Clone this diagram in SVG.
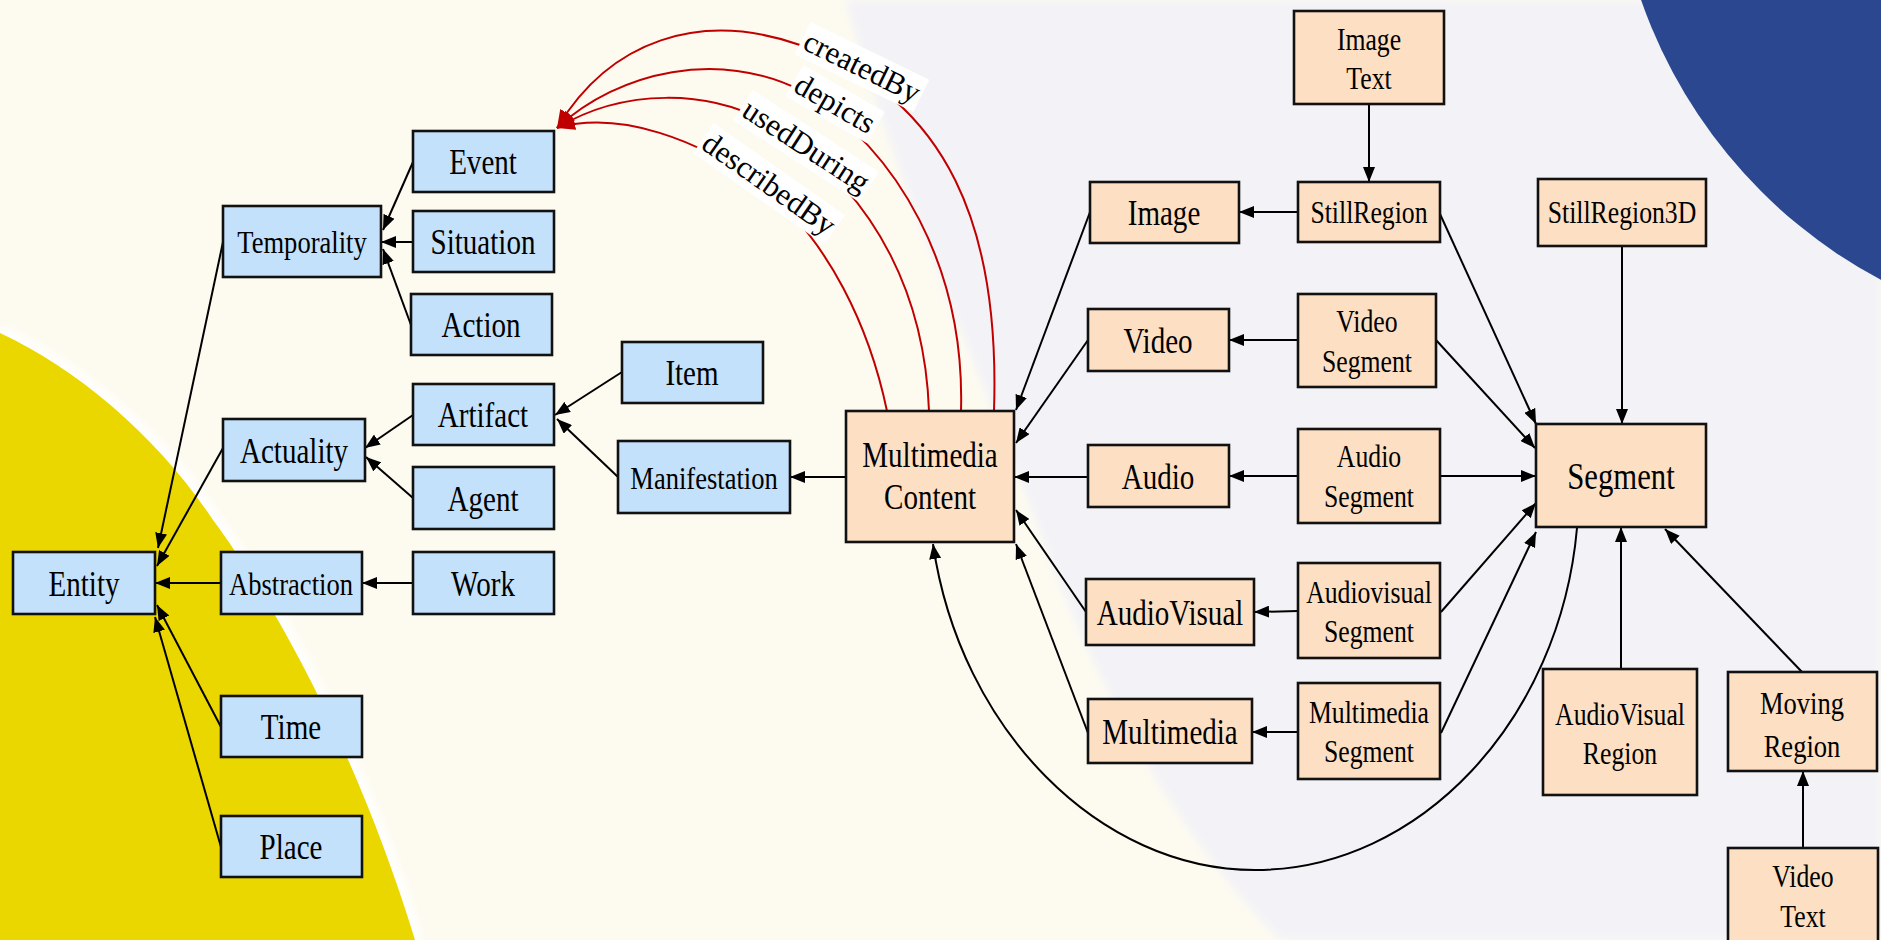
<svg xmlns="http://www.w3.org/2000/svg" width="1881" height="940" viewBox="0 0 1881 940">
<style>
.node rect{stroke:#111;stroke-width:2.6}
.blue rect{fill:#C3E1FB}
.peach rect{fill:#FDDFC3}
text{font-family:'Liberation Serif','Times New Roman',serif;text-anchor:middle;fill:#000}
.b{font-size:35px}
.m{font-size:32px}
.s{font-size:31px}
.xl{font-size:37px}
.e{fill:none;stroke:#000;stroke-width:2;marker-end:url(#ah)}
.r{fill:none;stroke:#C00000;stroke-width:2;marker-end:url(#ahr)}
.lbl rect{fill:#fff}
.lbl text{font-size:31px}
</style>
<defs>
<marker id="ah" viewBox="0 0 15 12" refX="15" refY="6" markerWidth="15" markerHeight="12" markerUnits="userSpaceOnUse" orient="auto"><path d="M0,0 L15,6 L0,12 z" fill="#000"/></marker>
<marker id="ahr" viewBox="0 0 18 14" refX="18" refY="7" markerWidth="18" markerHeight="14" markerUnits="userSpaceOnUse" orient="auto"><path d="M0,0 L18,7 L0,14 z" fill="#C00000"/></marker>
<filter id="soft" x="-10%" y="-10%" width="120%" height="120%"><feGaussianBlur stdDeviation="4"/></filter>
</defs>
<g id="background">
<rect x="0" y="0" width="1881" height="940" fill="#FDFBF0"/>
<path d="M845,0 C900,200 1000,420 1050,560 C1120,740 1200,860 1280,940 L1881,940 L1881,0 Z" fill="#F3F3F7" filter="url(#soft)"/>
<path d="M0,333 C80,370 160,440 213,520 C280,610 360,760 415,940" fill="none" stroke="#FFFFFF" stroke-width="14" filter="url(#soft)"/>
<path d="M0,333 C80,370 160,440 213,520 C280,610 360,760 415,940 L0,940 Z" fill="#EBD700"/>
<circle cx="2118" cy="-166" r="505" fill="#2B4790"/>
</g>
<g id="connectors">
<path class="e" d="M223,242 L158,548"/>
<path class="e" d="M223,448 L157,566"/>
<path class="e" d="M221,583 L155,583"/>
<path class="e" d="M221,727 L157,605"/>
<path class="e" d="M221,847 L155,617"/>
<path class="e" d="M413,162 L383,230"/>
<path class="e" d="M413,242 L381,242"/>
<path class="e" d="M411,325 L383,249"/>
<path class="e" d="M413,415 L365,448"/>
<path class="e" d="M413,498 L366,457"/>
<path class="e" d="M413,583 L362,583"/>
<path class="e" d="M622,372 L555,415"/>
<path class="e" d="M618,477 L557,419"/>
<path class="e" d="M846,477 L790,477"/>
<path class="e" d="M1090,212 L1016,410"/>
<path class="e" d="M1088,340 L1016,443"/>
<path class="e" d="M1088,477 L1014,477"/>
<path class="e" d="M1086,612 L1016,510"/>
<path class="e" d="M1088,733 L1016,544"/>
<path class="e" d="M1577,528 C1560,720 1420,870 1255,870 C1100,870 960,730 933,544"/>
<path class="e" d="M1369,104 L1369,182"/>
<path class="e" d="M1298,212 L1239,212"/>
<path class="e" d="M1298,340 L1229,340"/>
<path class="e" d="M1298,476 L1229,476"/>
<path class="e" d="M1298,611 L1254,612"/>
<path class="e" d="M1298,732 L1252,732"/>
<path class="e" d="M1440,214 L1536,424"/>
<path class="e" d="M1436,340 L1535,448"/>
<path class="e" d="M1440,476 L1536,476"/>
<path class="e" d="M1441,612 L1536,503"/>
<path class="e" d="M1441,733 Q1480,650 1536,532"/>
<path class="e" d="M1622,246 L1622,424"/>
<path class="e" d="M1621,669 L1621,527"/>
<path class="e" d="M1802,672 L1665,529"/>
<path class="e" d="M1803,848 L1803,771"/>
<path class="r" d="M994,411 C1000,230 950,100 800,45 C700,10 610,40 557,128"/>
<path class="r" d="M961,411 C965,270 900,150 800,90 C720,50 620,70 557,128"/>
<path class="r" d="M929,411 C925,300 880,200 780,130 C710,85 620,90 557,128"/>
<path class="r" d="M887,411 C870,330 830,240 760,185 C700,140 620,110 557,128"/>
<g class="lbl" transform="translate(862,67) rotate(26)"><rect x="-66" y="-18" width="132" height="36"/><text y="10">createdBy</text></g>
<g class="lbl" transform="translate(835,104) rotate(30)"><rect x="-47" y="-18" width="94" height="36"/><text y="10">depicts</text></g>
<g class="lbl" transform="translate(806,146) rotate(33)"><rect x="-75" y="-18" width="150" height="36"/><text y="10">usedDuring</text></g>
<g class="lbl" transform="translate(769,184) rotate(35)"><rect x="-80" y="-18" width="160" height="36"/><text y="10">describedBy</text></g>
</g>
<g id="n-entity" class="node blue"><rect x="13" y="552" width="142" height="62"/><text class="b" transform="matrix(.83 0 0 1 84 596)">Entity</text></g>
<g id="n-temporality" class="node blue"><rect x="223" y="206" width="158" height="71"/><text class="m" transform="matrix(.83 0 0 1 302 253)">Temporality</text></g>
<g id="n-actuality" class="node blue"><rect x="223" y="419" width="142" height="62"/><text class="b" transform="matrix(.83 0 0 1 294 463)">Actuality</text></g>
<g id="n-abstraction" class="node blue"><rect x="221" y="552" width="141" height="62"/><text class="m" transform="matrix(.83 0 0 1 291 595)">Abstraction</text></g>
<g id="n-time" class="node blue"><rect x="221" y="696" width="141" height="61"/><text class="b" transform="matrix(.83 0 0 1 291 739)">Time</text></g>
<g id="n-place" class="node blue"><rect x="221" y="816" width="141" height="61"/><text class="b" transform="matrix(.83 0 0 1 291 859)">Place</text></g>
<g id="n-event" class="node blue"><rect x="413" y="131" width="141" height="61"/><text class="b" transform="matrix(.83 0 0 1 483 174)">Event</text></g>
<g id="n-situation" class="node blue"><rect x="413" y="211" width="141" height="61"/><text class="b" transform="matrix(.83 0 0 1 483 254)">Situation</text></g>
<g id="n-action" class="node blue"><rect x="411" y="294" width="141" height="61"/><text class="b" transform="matrix(.83 0 0 1 481 337)">Action</text></g>
<g id="n-artifact" class="node blue"><rect x="413" y="384" width="141" height="61"/><text class="b" transform="matrix(.83 0 0 1 483 427)">Artifact</text></g>
<g id="n-agent" class="node blue"><rect x="413" y="467" width="141" height="62"/><text class="b" transform="matrix(.83 0 0 1 483 511)">Agent</text></g>
<g id="n-work" class="node blue"><rect x="413" y="552" width="141" height="62"/><text class="b" transform="matrix(.83 0 0 1 483 596)">Work</text></g>
<g id="n-item" class="node blue"><rect x="622" y="342" width="141" height="61"/><text class="b" transform="matrix(.83 0 0 1 692 385)">Item</text></g>
<g id="n-manifestation" class="node blue"><rect x="618" y="441" width="172" height="72"/><text class="m" transform="matrix(.83 0 0 1 704 489)">Manifestation</text></g>
<g id="n-mmcontent" class="node peach"><rect x="846" y="411" width="168" height="131"/><text class="b" transform="matrix(.83 0 0 1 930 0)"><tspan x="0" y="467">Multimedia</tspan><tspan x="0" y="509">Content</tspan></text></g>
<g id="n-image" class="node peach"><rect x="1090" y="182" width="149" height="61"/><text class="b" transform="matrix(.83 0 0 1 1164 225)">Image</text></g>
<g id="n-video" class="node peach"><rect x="1088" y="309" width="141" height="62"/><text class="b" transform="matrix(.83 0 0 1 1158 353)">Video</text></g>
<g id="n-audio" class="node peach"><rect x="1088" y="445" width="141" height="62"/><text class="b" transform="matrix(.83 0 0 1 1158 489)">Audio</text></g>
<g id="n-audiovisual" class="node peach"><rect x="1086" y="579" width="168" height="66"/><text class="b" transform="matrix(.83 0 0 1 1170 625)">AudioVisual</text></g>
<g id="n-multimedia" class="node peach"><rect x="1088" y="699" width="164" height="64"/><text class="b" transform="matrix(.83 0 0 1 1170 744)">Multimedia</text></g>
<g id="n-imagetext" class="node peach"><rect x="1294" y="11" width="150" height="93"/><text class="s" transform="matrix(.83 0 0 1 1369 0)"><tspan x="0" y="50">Image</tspan><tspan x="0" y="89">Text</tspan></text></g>
<g id="n-stillregion" class="node peach"><rect x="1298" y="182" width="142" height="60"/><text class="s" transform="matrix(.83 0 0 1 1369 223)">StillRegion</text></g>
<g id="n-videosegment" class="node peach"><rect x="1298" y="294" width="138" height="93"/><text class="s" transform="matrix(.83 0 0 1 1367 0)"><tspan x="0" y="332">Video</tspan><tspan x="0" y="372">Segment</tspan></text></g>
<g id="n-audiosegment" class="node peach"><rect x="1298" y="429" width="142" height="94"/><text class="s" transform="matrix(.83 0 0 1 1369 0)"><tspan x="0" y="467">Audio</tspan><tspan x="0" y="507">Segment</tspan></text></g>
<g id="n-avsegment" class="node peach"><rect x="1298" y="563" width="142" height="95"/><text class="s" transform="matrix(.83 0 0 1 1369 0)"><tspan x="0" y="603">Audiovisual</tspan><tspan x="0" y="642">Segment</tspan></text></g>
<g id="n-mmsegment" class="node peach"><rect x="1298" y="683" width="142" height="96"/><text class="s" transform="matrix(.83 0 0 1 1369 0)"><tspan x="0" y="723">Multimedia</tspan><tspan x="0" y="762">Segment</tspan></text></g>
<g id="n-stillregion3d" class="node peach"><rect x="1538" y="179" width="168" height="67"/><text class="s" transform="matrix(.83 0 0 1 1622 223)">StillRegion3D</text></g>
<g id="n-segment" class="node peach"><rect x="1536" y="424" width="170" height="103"/><text class="xl" transform="matrix(.83 0 0 1 1621 489)">Segment</text></g>
<g id="n-avregion" class="node peach"><rect x="1543" y="669" width="154" height="126"/><text class="s" transform="matrix(.83 0 0 1 1620 0)"><tspan x="0" y="725">AudioVisual</tspan><tspan x="0" y="764">Region</tspan></text></g>
<g id="n-movingregion" class="node peach"><rect x="1728" y="672" width="149" height="99"/><text class="m" transform="matrix(.83 0 0 1 1802 0)"><tspan x="0" y="714">Moving</tspan><tspan x="0" y="757">Region</tspan></text></g>
<g id="n-videotext" class="node peach"><rect x="1728" y="848" width="150" height="98"/><text class="s" transform="matrix(.83 0 0 1 1803 0)"><tspan x="0" y="887">Video</tspan><tspan x="0" y="927">Text</tspan></text></g>
</svg>
